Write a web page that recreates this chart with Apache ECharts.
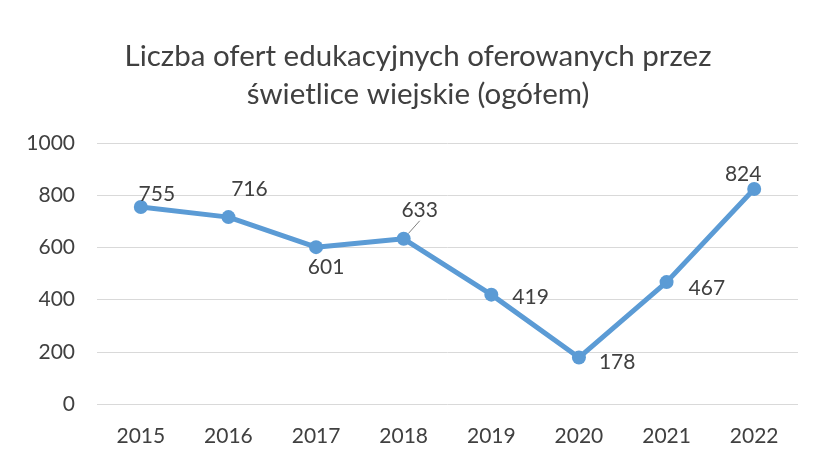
<!DOCTYPE html>
<html>
<head>
<meta charset="utf-8">
<script src="https://cdn.jsdelivr.net/npm/echarts@6/dist/echarts.min.js"></script>
<style>
  html, body { margin: 0; padding: 0; background: #fff; }
  #chart { width: 820px; height: 462px; }
</style>
</head>
<body>
<div id="chart"></div>
<script>
  // lata i liczba ofert
  var years = ['2015', '2016', '2017', '2018', '2019', '2020', '2021', '2022'];
  var offers = [755, 716, 601, 633, 419, 178, 467, 824];
  var yTicks = [0, 200, 400, 600, 800, 1000];
  // gdzie stoi etykieta każdego punktu
  var labelPos = ['top', 'top', 'bottom', 'top', 'right', 'right', 'right', 'top'];
  var labelShift = [[16, 10], [21, -5], [10, -2], [16, -6], [9, 3], [8, 5], [10, 6], [-11, 8]];

  var chart = echarts.init(document.getElementById('chart'));
  var font = 'Lato, "Open Sans", sans-serif';

  var points = offers.map(function (v, i) {
    return {
      value: v,
      label: { position: labelPos[i] },
      labelLine: { show: i === 3 }   // tylko 633 ma linię odniesienia
    };
  });

  chart.setOption({
    backgroundColor: '#ffffff',
    animation: false,
    title: {
      text: 'Liczba ofert edukacyjnych oferowanych przez\nświetlice wiejskie (ogółem)',
      left: 413,
      textAlign: 'center',
      top: 32,
      textStyle: {
        fontFamily: font,
        fontSize: 29.5,
        fontWeight: 'normal',
        color: '#404040',
        lineHeight: 38
      }
    },
    grid: { left: 97, right: 22, top: 143, bottom: 58 },
    xAxis: {
      type: 'category',
      data: years,
      boundaryGap: true,
      axisLine: { show: false },
      axisTick: { show: false },
      axisLabel: { color: '#404040', fontSize: 21, fontFamily: font, margin: 22 }
    },
    yAxis: {
      type: 'value',
      min: yTicks[0],
      max: yTicks[yTicks.length - 1],
      interval: 200,
      axisLine: { show: false },
      axisTick: { show: false },
      splitLine: { lineStyle: { color: '#d9d9d9', width: 1 } },
      axisLabel: {
        color: '#404040', fontSize: 21, fontFamily: font, margin: 22,
        formatter: function (v) { return String(v); }
      }
    },
    series: [{
      type: 'line',
      data: points,
      symbol: 'circle',
      symbolSize: 14,
      lineStyle: { color: '#5b9bd5', width: 5 },
      itemStyle: { color: '#5b9bd5' },
      label: {
        show: true,
        color: '#404040',
        fontSize: 21,
        fontFamily: font
      },
      labelLine: { show: false, lineStyle: { color: '#808080', width: 1 } },
      labelLayout: function (p) {
        return { dx: labelShift[p.dataIndex][0], dy: labelShift[p.dataIndex][1] };
      }
    }]
  });
</script>
</body>
</html>
